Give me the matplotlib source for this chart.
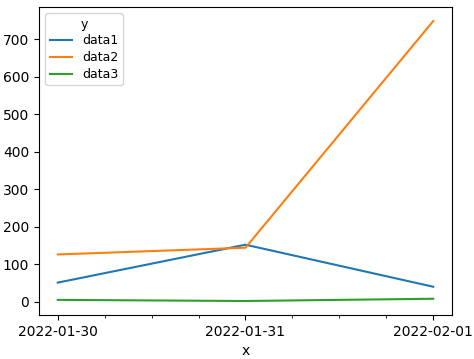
import numpy as np
import pandas as pd
import matplotlib
matplotlib.use("Agg")
import matplotlib.pyplot as plt
import matplotlib.dates as mdates

dates = pd.to_datetime(["2022-01-30", "2022-01-31", "2022-02-01"])
data1 = [51, 152, 40]
data2 = [126, 144, 748]
data3 = [5, 2, 8]
names = ["data1", "data2", "data3"]

fig = plt.figure(figsize=(4.74, 3.59), dpi=100)
ax = fig.add_axes([39 / 474, 1 - 315 / 359, (452 - 39) / 474, (315 - 7) / 359])

for name, vals in zip(names, [data1, data2, data3]):
    ax.plot(dates, vals, label=name)

ax.xaxis.set_major_locator(mdates.DayLocator())
ax.xaxis.set_major_formatter(mdates.DateFormatter("%Y-%m-%d"))
ax.xaxis.set_minor_locator(mdates.HourLocator(byhour=[6, 12, 18]))
ax.set_xlabel("x")
ax.legend(title="y", loc="upper left", fontsize=9, title_fontsize=9,
          labelspacing=0.3, borderpad=0.35, handlelength=1.8)

fig.savefig("out.png", dpi=100)
